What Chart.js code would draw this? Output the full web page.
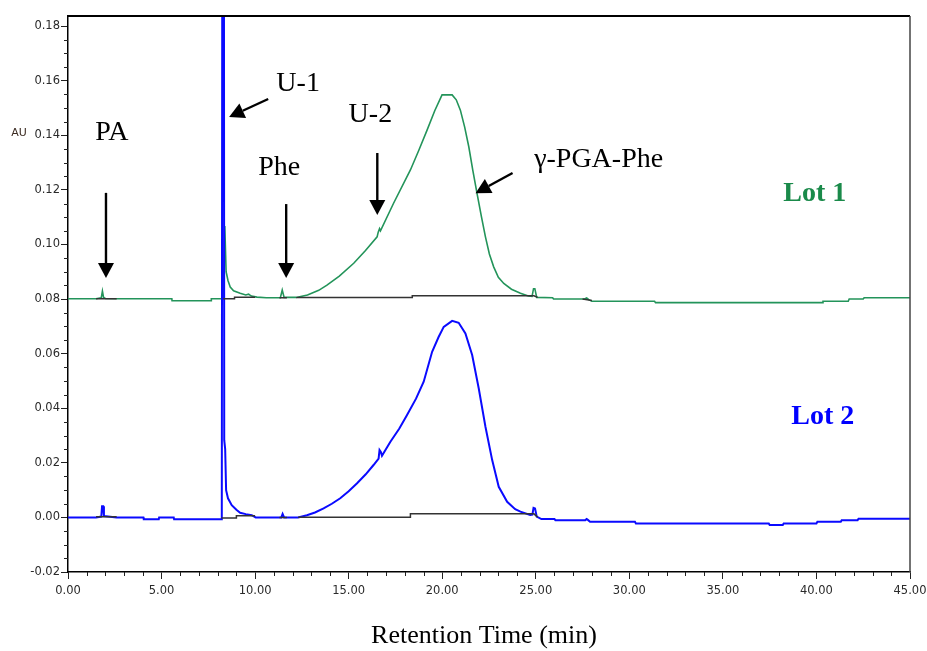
<!DOCTYPE html>
<html>
<head>
<meta charset="utf-8">
<script src="https://cdn.jsdelivr.net/npm/chart.js@4.4.1/dist/chart.umd.min.js"></script>
<style>
  html, body { margin: 0; padding: 0; background: #fff; }
  #wrap { width: 927px; height: 651px; }
</style>
</head>
<body>
<div id="wrap"><canvas id="hplcChart" width="927" height="651"></canvas></div>
<script>
// DATA (retention time in min, signal in AU)
const lot1Time = [0, 1.5, 1.78, 1.84, 1.9, 2.0, 2.6, 5.55, 5.56, 7.65, 7.66, 8.3, 8.38, 8.45, 8.55, 8.67, 8.85, 9.2, 9.5, 9.65, 9.8, 10.1, 10.6, 11.35, 11.45, 11.55, 12.2, 12.8, 13.4, 13.84, 14.5, 15.27, 15.9, 16.52, 16.58, 16.65, 16.7, 17.4, 18.3, 18.75, 19.19, 19.6, 19.99, 20.53, 20.75, 20.97, 21.2, 21.42, 21.64, 21.86, 22.1, 22.31, 22.52, 22.75, 23.0, 23.29, 23.7, 24.18, 24.6, 24.8, 24.88, 24.95, 25.05, 25.9, 25.95, 27.6, 27.72, 27.85, 28.0, 31.35, 31.4, 40.3, 40.35, 41.7, 41.75, 42.5, 42.55, 45];
const lot1AU = [0.0801, 0.0801, 0.0805, 0.0829, 0.0806, 0.0802, 0.0801, 0.0801, 0.0794, 0.0794, 0.0801, 0.0801, 0.1068, 0.09, 0.0868, 0.0844, 0.083, 0.0821, 0.0815, 0.0818, 0.0811, 0.0807, 0.0805, 0.0805, 0.0833, 0.0806, 0.0806, 0.0815, 0.0832, 0.0851, 0.0884, 0.0931, 0.0978, 0.1028, 0.1045, 0.1058, 0.105, 0.1151, 0.1273, 0.1345, 0.1419, 0.149, 0.1548, 0.1548, 0.153, 0.1492, 0.143, 0.1358, 0.127, 0.1187, 0.11, 0.1028, 0.0965, 0.0918, 0.088, 0.0857, 0.0836, 0.0821, 0.0811, 0.081, 0.0838, 0.0838, 0.0806, 0.0805, 0.08, 0.08, 0.0804, 0.0797, 0.0792, 0.0792, 0.0787, 0.0787, 0.0792, 0.0792, 0.08, 0.08, 0.0805, 0.0805];

const lot2Time = [0, 1.5, 1.78, 1.82, 1.88, 1.92, 2.6, 4.03, 4.05, 4.85, 4.87, 5.65, 5.67, 8.18, 8.22, 8.25, 8.33, 8.35, 8.4, 8.45, 8.55, 8.75, 9.0, 9.2, 9.5, 9.82, 10.03, 11.4, 11.47, 11.55, 12.3, 12.77, 13.2, 13.66, 14.1, 14.55, 15.0, 15.45, 15.9, 16.33, 16.6, 16.65, 16.72, 16.78, 17.23, 17.7, 18.12, 18.6, 19.01, 19.46, 19.8, 20.08, 20.53, 20.88, 21.24, 21.6, 21.95, 22.31, 22.67, 23.02, 23.47, 23.9, 24.18, 24.7, 24.82, 24.88, 24.96, 25.05, 25.3, 26.0, 26.05, 27.65, 27.72, 27.8, 27.9, 30.3, 30.35, 37.45, 37.5, 38.2, 38.25, 40.0, 40.05, 41.3, 41.35, 42.2, 42.25, 45];
const lot2AU = [0.0, 0.0, 0.0003, 0.0041, 0.0041, 0.0005, 0.0, 0.0, -0.0007, -0.0007, 0.0, 0.0, -0.0007, -0.0007, 0.0, 0.25, 0.25, 0.0283, 0.025, 0.01, 0.007, 0.0045, 0.0028, 0.0017, 0.0012, 0.0008, 0.0, 0.0, 0.0013, 0.0, 0.0, 0.0008, 0.0018, 0.0033, 0.005, 0.007, 0.0096, 0.0125, 0.0157, 0.0192, 0.0215, 0.0247, 0.024, 0.0226, 0.0277, 0.0325, 0.0375, 0.0435, 0.0497, 0.0607, 0.066, 0.0698, 0.072, 0.0713, 0.0674, 0.0595, 0.0473, 0.0332, 0.021, 0.0112, 0.0057, 0.003, 0.0021, 0.0009, 0.001, 0.0035, 0.0033, 0.0003, -0.0006, -0.0006, -0.001, -0.001, -0.0006, -0.001, -0.0016, -0.0016, -0.0022, -0.0022, -0.0028, -0.0028, -0.0022, -0.0022, -0.0016, -0.0016, -0.001, -0.001, -0.0005, -0.0005];

// integration baselines (null = gap)
const base1Time = [1.5, 2.6, 2.6, 8.3, 8.9, 8.9, 10.0, 10.0, 11.3, 11.7, 11.7, 12.2, 18.4, 18.4, 24.9, 25.1, 25.1, 27.5, 28.0];
const base1AU = [0.0801, 0.0801, null, 0.0801, 0.0801, 0.0807, 0.0807, null, 0.0805, 0.0805, null, 0.0806, 0.0806, 0.0812, 0.0812, 0.0806, null, 0.08, 0.0795];
const base2Time = [1.5, 2.6, 2.6, 8.2, 9.0, 9.0, 10.0, 10.0, 11.3, 11.7, 11.7, 12.3, 18.3, 18.3, 24.9, 25.1];
const base2AU = [0.0002, 0.0002, null, -0.0002, -0.0002, 0.0006, 0.0006, null, 0.0, 0.0, null, 0.0001, 0.0001, 0.0013, 0.0013, 0.0001];

const xTicks = [0, 5, 10, 15, 20, 25, 30, 35, 40, 45];
const yTicks = [-0.02, 0.0, 0.02, 0.04, 0.06, 0.08, 0.10, 0.12, 0.14, 0.16, 0.18];

// peak labels, placed in data units (time, AU)
const labels = [
  { text: "PA", t: 2.35, v: 0.141, arrow: [2.03, 0.1189, 2.03, 0.0877] },
  { text: "U-1", t: 12.3, v: 0.159, arrow: [10.7, 0.1533, 8.61, 0.1467] },
  { text: "Phe", t: 11.29, v: 0.128, arrow: [11.66, 0.1148, 11.66, 0.0877] },
  { text: "U-2", t: 16.16, v: 0.1475, arrow: [16.53, 0.1335, 16.53, 0.1108] },
  { text: "\u03b3-PGA-Phe", t: 28.36, v: 0.131, arrow: [23.76, 0.1262, 21.78, 0.1188] },
];

const green = "#23945a";
const blue = "#0a0aff";

function pts(ts, vs) {
  return ts.map((t, i) => ({ x: t, y: vs[i] }));
}

function drawArrow(c, x1, y1, x2, y2) {
  const ang = Math.atan2(y2 - y1, x2 - x1);
  const hl = 15, hw = 8;
  const bx = x2 - hl * Math.cos(ang), by = y2 - hl * Math.sin(ang);
  c.strokeStyle = "#000";
  c.lineWidth = 2.4;
  c.beginPath();
  c.moveTo(x1, y1);
  c.lineTo(bx, by);
  c.stroke();
  c.fillStyle = "#000";
  c.beginPath();
  c.moveTo(x2, y2);
  c.lineTo(bx + hw * Math.sin(ang), by - hw * Math.cos(ang));
  c.lineTo(bx - hw * Math.sin(ang), by + hw * Math.cos(ang));
  c.closePath();
  c.fill();
}

// minor ticks, frame, labels and titles
const extras = {
  id: "extras",
  afterDraw(chart) {
    const c = chart.ctx;
    const xs = chart.scales.x, ys = chart.scales.y;
    const a = chart.chartArea;
    c.save();
    c.strokeStyle = "#222";
    c.lineWidth = 1;
    for (let t = 0; t <= 45; t++) {
      if (t % 5 === 0) continue;
      const px = Math.round(xs.getPixelForValue(t)) + 0.5;
      c.beginPath(); c.moveTo(px, a.bottom); c.lineTo(px, a.bottom + 4); c.stroke();
    }
    for (let k = -4; k <= 36; k++) {
      if (k % 4 === 0) continue;
      const py = Math.round(ys.getPixelForValue(k * 0.005)) + 0.5;
      c.beginPath(); c.moveTo(a.left - 4, py); c.lineTo(a.left, py); c.stroke();
    }
    // top and right frame
    c.strokeStyle = "#000";
    c.lineWidth = 2;
    c.beginPath(); c.moveTo(a.left, a.top); c.lineTo(a.right, a.top); c.stroke();
    c.strokeStyle = "#444";
    c.lineWidth = 1.5;
    c.beginPath(); c.moveTo(a.right, a.top); c.lineTo(a.right, a.bottom); c.stroke();

    // peak labels and arrows
    c.font = "28px 'Liberation Serif'";
    c.fillStyle = "#000";
    c.textAlign = "center";
    c.textBaseline = "middle";
    labels.forEach((l) => {
      c.fillText(l.text, xs.getPixelForValue(l.t), ys.getPixelForValue(l.v));
      const [t1, v1, t2, v2] = l.arrow;
      drawArrow(c, xs.getPixelForValue(t1), ys.getPixelForValue(v1), xs.getPixelForValue(t2), ys.getPixelForValue(v2));
    });

    c.font = "bold 28px 'Liberation Serif'";
    c.fillStyle = "#1a8a4a";
    c.fillText("Lot 1", xs.getPixelForValue(39.91), ys.getPixelForValue(0.1185));
    c.fillStyle = "#0000ff";
    c.fillText("Lot 2", xs.getPixelForValue(40.34), ys.getPixelForValue(0.0368));

    // axis titles
    c.font = "26px 'Liberation Serif'";
    c.fillStyle = "#000";
    c.fillText("Retention Time (min)", 484, 636);
    c.font = "11px 'DejaVu Sans'";
    c.fillStyle = "#3a2a20";
    c.fillText("AU", 19, 133);
    c.restore();
  },
};

const tickFont = { family: "'DejaVu Sans', sans-serif", size: 11.5 };

const ctx = document.getElementById("hplcChart").getContext("2d");
new Chart(ctx, {
  type: "line",
  data: {
    datasets: [
      { label: "baseline 1", data: pts(base1Time, base1AU), borderColor: "#333", borderWidth: 1.5 },
      { label: "baseline 2", data: pts(base2Time, base2AU), borderColor: "#333", borderWidth: 1.5 },
      { label: "Lot 2", data: pts(lot2Time, lot2AU), borderColor: blue, borderWidth: 2 },
      { label: "Lot 1", data: pts(lot1Time, lot1AU), borderColor: green, borderWidth: 1.6 },
    ],
  },
  options: {
    responsive: false,
    animation: false,
    devicePixelRatio: 1,
    events: [],
    elements: { point: { radius: 0 }, line: { tension: 0 } },
    layout: { padding: { top: 16, right: 17, left: 0, bottom: 0 } },
    plugins: { legend: { display: false }, tooltip: { enabled: false } },
    scales: {
      x: {
        type: "linear",
        min: 0,
        max: 45,
        afterBuildTicks: (s) => { s.ticks = xTicks.map((v) => ({ value: v })); },
        afterFit: (s) => { s.height = 79; s.paddingLeft = 0; s.paddingRight = 0; },
        ticks: { callback: (v) => v.toFixed(2), font: tickFont, color: "#2a2a2a", padding: 5, maxRotation: 0, autoSkip: false },
        grid: { drawOnChartArea: false, tickLength: 7, color: "#222" },
        border: { color: "#000", width: 1.5 },
      },
      y: {
        min: -0.02,
        max: 0.1837,
        afterBuildTicks: (s) => { s.ticks = yTicks.map((v) => ({ value: v })); },
        afterFit: (s) => { s.width = 68; s.paddingTop = 0; s.paddingBottom = 0; },
        ticks: { callback: (v) => v.toFixed(2), font: tickFont, color: "#2a2a2a", padding: 1, autoSkip: false },
        grid: { drawOnChartArea: false, tickLength: 7, color: "#222" },
        border: { color: "#000", width: 1.5 },
      },
    },
  },
  plugins: [extras],
});
</script>
</body>
</html>
